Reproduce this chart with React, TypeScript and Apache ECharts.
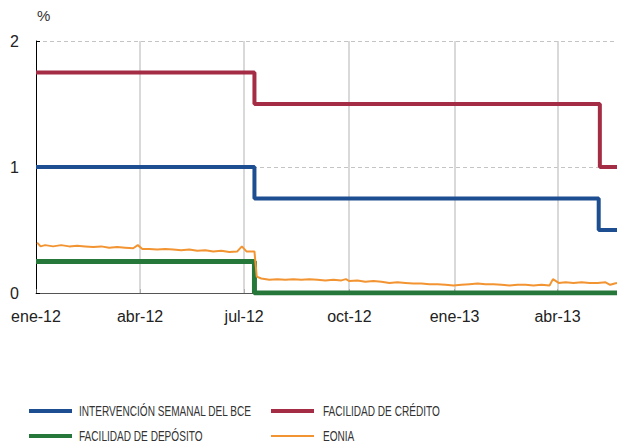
import React, { useEffect, useRef } from "react";
import * as echarts from "echarts";

const monthNames = ["ene", "feb", "mar", "abr", "may", "jun", "jul", "ago", "sep", "oct", "nov", "dic"];
const quarterTicks = ["2012-01-01", "2012-04-01", "2012-07-01", "2012-10-01", "2013-01-01", "2013-04-01"];
const yTicks = [0, 1, 2];

const mroData: [string, number][] = [
  ["2012-01-01", 1.0],
  ["2012-07-10", 0.75],
  ["2013-05-07", 0.5],
  ["2013-06-30", 0.5],
];
const mlfData: [string, number][] = [
  ["2012-01-01", 1.75],
  ["2012-07-10", 1.5],
  ["2013-05-08", 1.0],
  ["2013-06-30", 1.0],
];
const depositData: [string, number][] = [
  ["2012-01-01", 0.25],
  ["2012-07-10", 0.0],
  ["2013-06-30", 0.0],
];
const eoniaData: [string, number][] = [
  ["2012-01-02", 0.4], ["2012-01-05", 0.37], ["2012-01-09", 0.38], ["2012-01-16", 0.37], ["2012-01-23", 0.38], ["2012-01-30", 0.37],
  ["2012-02-06", 0.375], ["2012-02-13", 0.37], ["2012-02-20", 0.365], ["2012-02-27", 0.37],
  ["2012-03-05", 0.36], ["2012-03-12", 0.365], ["2012-03-19", 0.36], ["2012-03-26", 0.355], ["2012-03-30", 0.38], ["2012-04-03", 0.35],
  ["2012-04-09", 0.35], ["2012-04-16", 0.345], ["2012-04-23", 0.35], ["2012-04-30", 0.345],
  ["2012-05-07", 0.34], ["2012-05-14", 0.345], ["2012-05-21", 0.335], ["2012-05-28", 0.34],
  ["2012-06-04", 0.33], ["2012-06-11", 0.335], ["2012-06-18", 0.325], ["2012-06-25", 0.33], ["2012-06-29", 0.37], ["2012-07-03", 0.33],
  ["2012-07-08", 0.33], ["2012-07-10", 0.33], ["2012-07-12", 0.13], ["2012-07-16", 0.115], ["2012-07-23", 0.105], ["2012-07-30", 0.11],
  ["2012-08-06", 0.105], ["2012-08-13", 0.11], ["2012-08-20", 0.105], ["2012-08-27", 0.11],
  ["2012-09-03", 0.105], ["2012-09-10", 0.1], ["2012-09-17", 0.105], ["2012-09-24", 0.1], ["2012-09-28", 0.11],
  ["2012-10-01", 0.095], ["2012-10-08", 0.1], ["2012-10-15", 0.09], ["2012-10-22", 0.095], ["2012-10-29", 0.09],
  ["2012-11-05", 0.08], ["2012-11-12", 0.085], ["2012-11-19", 0.08], ["2012-11-26", 0.075],
  ["2012-12-03", 0.075], ["2012-12-10", 0.07], ["2012-12-17", 0.07], ["2012-12-24", 0.065], ["2012-12-31", 0.06],
  ["2013-01-07", 0.065], ["2013-01-14", 0.07], ["2013-01-21", 0.075], ["2013-01-28", 0.07],
  ["2013-02-04", 0.07], ["2013-02-11", 0.065], ["2013-02-18", 0.06], ["2013-02-25", 0.065],
  ["2013-03-04", 0.065], ["2013-03-11", 0.06], ["2013-03-18", 0.065], ["2013-03-25", 0.06], ["2013-03-28", 0.11], ["2013-04-02", 0.08],
  ["2013-04-08", 0.085], ["2013-04-15", 0.08], ["2013-04-22", 0.085], ["2013-04-29", 0.08],
  ["2013-05-06", 0.08], ["2013-05-13", 0.085], ["2013-05-17", 0.065], ["2013-05-21", 0.075], ["2013-05-23", 0.08],
];

const seriesNames = ["INTERVENCIÓN SEMANAL DEL BCE", "FACILIDAD DE CRÉDITO", "FACILIDAD DE DEPÓSITO", "EONIA"];
const colors = ["#1D4E91", "#A42C44", "#26773A", "#F39432"];

const toTime = (s: string) => {
  const [y, m, d] = s.split("-").map(Number);
  return new Date(y, m - 1, d).getTime();
};
const conv = (arr: [string, number][]) => arr.map(([d, v]) => [toTime(d), v]);

export default function App() {
  const ref = useRef<HTMLDivElement>(null);
  useEffect(() => {
    if (!ref.current) return;
    const chart = echarts.init(ref.current, null, { renderer: "svg" });
    const font = "'Liberation Sans', Arial, sans-serif";
    const tickTimes = quarterTicks.map(toTime);
    const xMin = toTime("2012-01-01");
    const xMax = toTime("2013-05-23");
    const legendPos = [
      { x: 29, y: 411, tx: 79 },
      { x: 271, y: 411, tx: 323 },
      { x: 29, y: 436, tx: 79 },
      { x: 271, y: 436, tx: 323 },
    ];
    const legendGraphics: any[] = [];
    seriesNames.forEach((name, i) => {
      const p = legendPos[i];
      legendGraphics.push({
        type: "line",
        shape: { x1: p.x, y1: p.y, x2: p.x + 43, y2: p.y },
        style: { stroke: colors[i], lineWidth: i === 3 ? 2 : 4 },
      });
      legendGraphics.push({
        type: "text",
        x: p.tx,
        y: p.y,
        scaleX: 0.72,
        style: { text: name, fontFamily: font, fontSize: 14, fill: "#333", verticalAlign: "middle" },
      });
    });

    chart.setOption({
      animation: false,
      grid: { left: 36, right: 0, top: 41, bottom: 153, containLabel: false },
      xAxis: {
        type: "value",
        min: xMin,
        max: xMax,
        axisLine: { show: true, lineStyle: { color: "#555", width: 1 } },
        axisTick: { show: true, inside: true, length: 4, customValues: tickTimes, lineStyle: { color: "#555" } },
        axisLabel: {
          customValues: tickTimes,
          fontFamily: font,
          fontSize: 16,
          color: "#222",
          margin: 15,
          hideOverlap: false,
          formatter: (v: number) => {
            const d = new Date(v);
            return monthNames[d.getMonth()] + "-" + String(d.getFullYear()).slice(2);
          },
        },
        splitLine: { show: false },
      },
      yAxis: {
        type: "value",
        min: 0,
        max: 2,
        interval: 1,
        axisLine: { show: true, lineStyle: { color: "#000", width: 1 } },
        axisTick: { show: true, inside: true, length: 4, lineStyle: { color: "#000" } },
        axisLabel: { fontFamily: font, fontSize: 16, color: "#222", margin: 17, formatter: (v: number) => (yTicks.includes(v) ? String(v) : "") },
        splitLine: { show: true, lineStyle: { color: "#c4c4c4", type: [4, 3], width: 1 } },
      },
      graphic: [
        { type: "text", x: 37, y: 8, style: { text: "%", fontFamily: font, fontSize: 15, fill: "#333" } },
        ...legendGraphics,
      ],
      series: [
        {
          type: "custom",
          silent: true,
          z: 1,
          clip: false,
          data: tickTimes.slice(1).map((t) => [t, 0]),
          encode: { x: 0, y: 1 },
          renderItem: (params: any, api: any) => {
            const t = api.value(0);
            const p0 = api.coord([t, 0]);
            const p1 = api.coord([t, 2]);
            return {
              type: "line",
              shape: { x1: Math.round(p0[0]), y1: p0[1], x2: Math.round(p1[0]), y2: p1[1] },
              style: { stroke: "#cccccc", lineWidth: 1.5 },
            };
          },
        },
        {
          name: seriesNames[2], type: "line", step: "end", data: conv(depositData), showSymbol: false, z: 2,
          lineStyle: { color: colors[2], width: 5 }, itemStyle: { color: colors[2] },
        },
        {
          name: seriesNames[0], type: "line", step: "end", data: conv(mroData), showSymbol: false, z: 3,
          lineStyle: { color: colors[0], width: 4 }, itemStyle: { color: colors[0] },
        },
        {
          name: seriesNames[1], type: "line", step: "end", data: conv(mlfData), showSymbol: false, z: 3,
          lineStyle: { color: colors[1], width: 4 }, itemStyle: { color: colors[1] },
        },
        {
          name: seriesNames[3], type: "line", data: conv(eoniaData), showSymbol: false, z: 4,
          lineStyle: { color: colors[3], width: 2 }, itemStyle: { color: colors[3] },
        },
      ],
    });
    return () => chart.dispose();
  }, []);
  return <div ref={ref} style={{ width: 617, height: 446, position: "absolute", left: 0, top: 0 }} />;
}
